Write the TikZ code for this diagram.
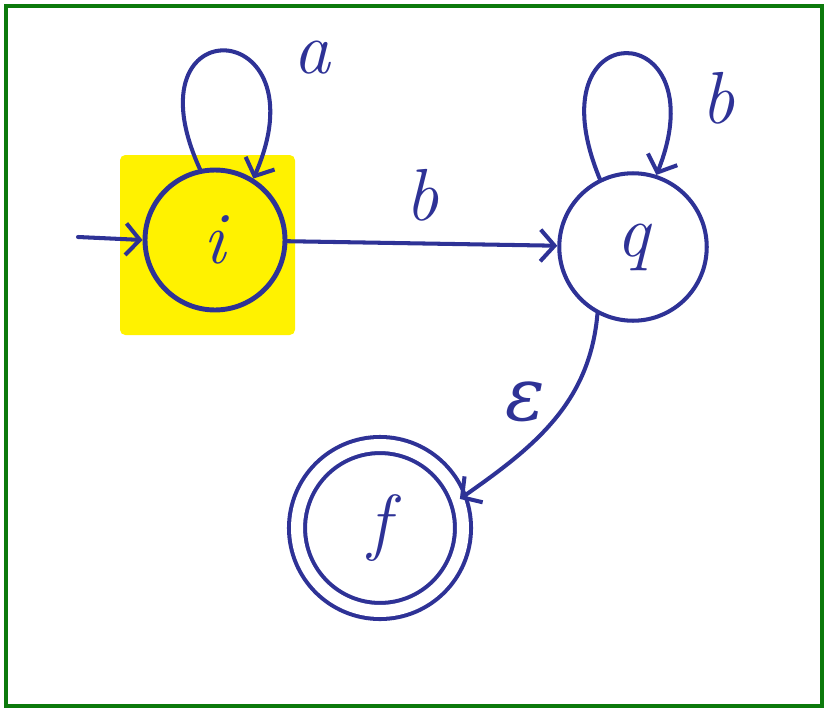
\documentclass[tikz,border=0pt]{standalone}
\usepackage{fontspec}
\newfontfamily\grk{DejaVu Serif}
\usetikzlibrary{arrows.meta}
\definecolor{ink}{RGB}{46,50,150}
\definecolor{frame}{RGB}{12,122,12}
\begin{document}
\begin{tikzpicture}[x=0.02cm,y=-0.02cm,
    state/.style={circle,draw=ink,line width=2.3pt,inner sep=0pt,text=ink,font=\fontsize{42}{46}\selectfont\itshape},
    edge/.style={ink,line width=2.3pt,line cap=round,-{Straight Barb[length=8pt,width=18pt,line width=2.3pt]}},
    lbl/.style={text=ink,font=\fontsize{42}{46}\selectfont\itshape}]
  \useasboundingbox (0,0) rectangle (825,710);
  \draw[frame,line width=2.3pt] (6,6) rectangle (822,706);
  \fill[yellow,rounded corners=3pt] (120,155) rectangle (295,335);
  \node[state,minimum size=2.8cm,line width=2.8pt] (i) at (215,240) {i};
  \node[state,minimum size=2.95cm] (q) at (633,247) {q};
  \node[state,minimum size=3.32cm,double,double distance=0.24cm] (f) at (380,528) {f};
  \coordinate (start) at (78,237);
  \draw[edge] (start) -- (i.west);
  \draw[edge] (i) -- (q) node[lbl,midway,above=8pt] (lb) {b};
  \draw[edge] (i.102) .. controls (125,5) and (325,15) .. (i.58);
  \node[lbl] (la) at (312,58) {a};
  \draw[edge] (q.116) .. controls (530,10) and (720,15) .. (q.72);
  \node[lbl] (lq) at (718,98) {b};
  \draw[edge] (q.242) to[out=-95,in=35] (f.20);
  \node[lbl] (le) at (525,402) {\grk ε};
\end{tikzpicture}
\end{document}
